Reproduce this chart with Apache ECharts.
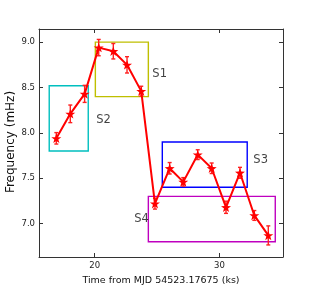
<!DOCTYPE html>
<html><head><meta charset="utf-8">
<script src="https://cdn.jsdelivr.net/npm/echarts@6/dist/echarts.min.js"></script>
<style>html,body{margin:0;padding:0;background:#fff}#c{width:314px;height:291px}</style>
</head><body><div id="c"></div>
<script>
const timeKs = [16.92, 18.04, 19.19, 20.32, 21.49, 22.59, 23.73, 24.83, 26.01, 27.10, 28.26, 29.38, 30.53, 31.65, 32.80, 33.92];
const freqMHz = [7.94, 8.21, 8.43, 8.94, 8.90, 8.75, 8.46, 7.22, 7.61, 7.46, 7.76, 7.61, 7.18, 7.56, 7.09, 6.87];
const freqErr = [0.063, 0.097, 0.094, 0.09, 0.085, 0.09, 0.054, 0.06, 0.063, 0.047, 0.054, 0.058, 0.067, 0.06, 0.054, 0.105];
const boxNames = ['S1', 'S2', 'S3', 'S4'];
const boxX0 = [20.05, 16.35, 25.42, 24.30];
const boxX1 = [24.30, 19.48, 32.23, 34.48];
const boxY0 = [8.40, 7.80, 7.40, 6.80];
const boxY1 = [9.00, 8.52, 7.90, 7.30];
const boxColors = ['#bfbf00', '#00bfbf', '#0000ff', '#bf00bf'];
const labelX = [24.62, 20.12, 32.72, 23.17];
const labelY = [8.65, 8.14, 7.70, 7.05];
const xTicks = [20, 30];
const yTicks = [7.0, 7.5, 8.0, 8.5, 9.0];
const xMin = 15.53, xMax = 35.1, yMin = 6.632, yMax = 9.145;

const star = 'path://M0,-10 L2.35,-3.24 L9.51,-3.09 L3.80,1.24 L5.88,8.09 L0,4 L-5.88,8.09 L-3.80,1.24 L-9.51,-3.09 L-2.35,-3.24 Z';
const font = 'DejaVu Sans';
const axisCol = '#333';

const chart = echarts.init(document.getElementById('c'), null, {renderer: 'canvas'});
const common = {
  axisLine: {show: true, onZero: false, lineStyle: {color: axisCol, width: 1}},
  splitLine: {show: false}
};
chart.setOption({
  animation: false,
  grid: {left: 39, top: 29, width: 244, height: 232, containLabel: false},
  xAxis: [
    Object.assign({type: 'value', min: xMin, max: xMax, position: 'bottom',
      axisTick: {inside: true, length: 4, customValues: xTicks, lineStyle: {color: axisCol}},
      axisLabel: {customValues: xTicks, fontFamily: font, fontSize: 8.5, color: '#222', margin: 4},
      name: 'Time from MJD 54523.17675 (ks)', nameLocation: 'middle', nameGap: 19,
      nameTextStyle: {fontFamily: font, fontSize: 9.5, color: '#111'}}, common),
    Object.assign({type: 'value', min: xMin, max: xMax, position: 'top',
      axisTick: {inside: true, length: 4, customValues: xTicks, lineStyle: {color: axisCol}},
      axisLabel: {show: false}}, common)
  ],
  yAxis: [
    Object.assign({type: 'value', min: yMin, max: yMax, position: 'left',
      axisTick: {inside: true, length: 4, customValues: yTicks, lineStyle: {color: axisCol}},
      axisLabel: {customValues: yTicks, fontFamily: font, fontSize: 8.5, color: '#222', margin: 4,
        formatter: v => v.toFixed(1)}}, common),
    Object.assign({type: 'value', min: yMin, max: yMax, position: 'right',
      axisTick: {inside: true, length: 4, customValues: yTicks, lineStyle: {color: axisCol}},
      axisLabel: {show: false}}, common)
  ],
  graphic: [{
    type: 'text', x: 11, y: 142, rotation: Math.PI / 2,
    style: {text: 'Frequency (mHz)', font: '12px "DejaVu Sans"', fill: '#111', textAlign: 'center', textVerticalAlign: 'middle'}
  }],
  series: [
    {
      type: 'custom', xAxisIndex: 0, yAxisIndex: 0, z: 1,
      data: boxNames.map((n, i) => [boxX0[i], boxY0[i], boxX1[i], boxY1[i], i]),
      renderItem: (params, api) => {
        const p0 = api.coord([api.value(0), api.value(1)]);
        const p1 = api.coord([api.value(2), api.value(3)]);
        return {type: 'rect', shape: {x: p0[0], y: p1[1], width: p1[0] - p0[0], height: p0[1] - p1[1]},
          style: {fill: 'none', stroke: boxColors[api.value(4)], lineWidth: 1.4}};
      }
    },
    {
      type: 'scatter', symbolSize: 0, z: 3,
      data: boxNames.map((n, i) => ({name: n, value: [labelX[i], labelY[i]]})),
      label: {show: true, position: 'inside', align: 'left', verticalAlign: 'middle',
        formatter: p => p.name, fontFamily: font, fontSize: 11.5, color: '#111'}
    },
    {
      type: 'custom', z: 4,
      data: timeKs.map((t, i) => [t, freqMHz[i] - freqErr[i], freqMHz[i] + freqErr[i]]),
      renderItem: (params, api) => {
        const lo = api.coord([api.value(0), api.value(1)]);
        const hi = api.coord([api.value(0), api.value(2)]);
        const c = 2;
        const st = {stroke: '#ff2020', lineWidth: 1.4};
        return {type: 'group', children: [
          {type: 'line', shape: {x1: lo[0], y1: lo[1], x2: hi[0], y2: hi[1]}, style: st},
          {type: 'line', shape: {x1: lo[0] - c, y1: lo[1], x2: lo[0] + c, y2: lo[1]}, style: st},
          {type: 'line', shape: {x1: hi[0] - c, y1: hi[1], x2: hi[0] + c, y2: hi[1]}, style: st}
        ]};
      }
    },
    {
      type: 'line', z: 5,
      data: timeKs.map((t, i) => [t, freqMHz[i]]),
      lineStyle: {color: '#ff0000', width: 2},
      itemStyle: {color: '#ff0000'},
      symbol: star, symbolSize: 10, symbolKeepAspect: true, showSymbol: true
    }
  ]
});
</script></body></html>
